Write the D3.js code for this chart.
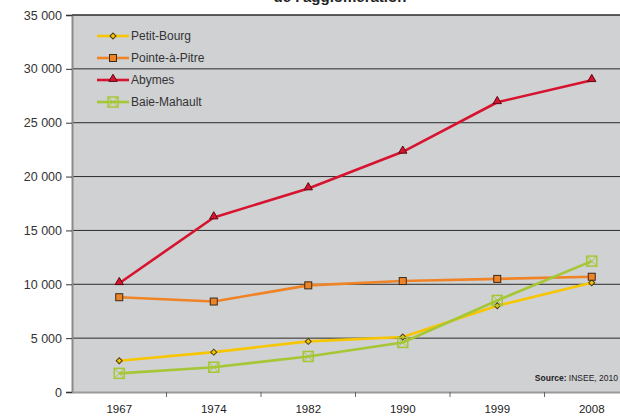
<!DOCTYPE html>
<html>
<head>
<meta charset="utf-8">
<script src="https://cdn.jsdelivr.net/npm/d3@7"></script>
<style>
  html, body { margin: 0; padding: 0; background: #fff; }
  svg { display: block; font-family: "Liberation Sans", Arial, sans-serif; }
</style>
</head>
<body>
<svg id="chart" width="620" height="419"></svg>
<script>
// Population of the main communes, census years
const years = ["1967", "1974", "1982", "1990", "1999", "2008"];
const petitBourg   = [2900, 3700, 4700, 5100, 8000, 10150];
const pointeAPitre = [8800, 8400, 9900, 10300, 10500, 10700];
const abymes       = [10100, 16200, 18900, 22300, 26900, 28950];
const baieMahault  = [1730, 2300, 3300, 4600, 8500, 12150];
const yTicks = [0, 5000, 10000, 15000, 20000, 25000, 30000, 35000];

const series = [
  { name: "Petit-Bourg",    values: petitBourg,   color: "#f7c600", marker: "diamond" },
  { name: "Pointe-à-Pitre", values: pointeAPitre, color: "#ef8426", marker: "square" },
  { name: "Abymes",         values: abymes,       color: "#d7142f", marker: "triangle" },
  { name: "Baie-Mahault",   values: baieMahault,  color: "#a6c735", marker: "xsquare" }
];

const svg = d3.select("#chart");
const plotLeft = 72, plotTop = 15, plotBottom = 392, plotRight = 639;

const x = d3.scaleBand().domain(years).range([plotLeft, plotRight]);
const y = d3.scaleLinear().domain([0, 35000]).range([plotBottom, plotTop]);

// Title (partly above the frame)
svg.append("text")
  .attr("x", 340).attr("y", 2)
  .attr("text-anchor", "middle")
  .attr("font-size", 15).attr("font-weight", "bold")
  .attr("fill", "#222")
  .text("de l'agglomération");

// Plot background
svg.append("rect")
  .attr("x", plotLeft).attr("y", plotTop)
  .attr("width", 620 - plotLeft).attr("height", plotBottom - plotTop)
  .attr("fill", "#d0d1d3");

// Horizontal gridlines
svg.append("g").selectAll("line")
  .data(yTicks.filter(d => d > 0))
  .join("line")
  .attr("x1", plotLeft).attr("x2", 620)
  .attr("y1", d => y(d)).attr("y2", d => y(d))
  .attr("stroke", "#2b2b2b").attr("stroke-width", 1);

// Y axis
const fmt = d => d === 0 ? "0" : d3.format(",")(d).replace(/,/g, " ");
const yAxis = svg.append("g")
  .attr("transform", `translate(${plotLeft},0)`)
  .call(d3.axisLeft(y).tickValues(yTicks).tickFormat(fmt).tickSize(6).tickPadding(4));
yAxis.select(".domain").attr("stroke", "#8a8a8a").attr("stroke-width", 2);
yAxis.selectAll(".tick line").attr("stroke", "#333");
yAxis.selectAll("text").attr("font-size", 12.5).attr("fill", "#333")
  .attr("font-family", "Liberation Sans, Arial, sans-serif");

// X axis
const xAxis = svg.append("g")
  .attr("transform", `translate(0,${plotBottom})`)
  .call(d3.axisBottom(x).tickSize(0).tickPadding(13));
xAxis.select(".domain").attr("stroke", "#9a9a9a").attr("stroke-width", 2);
xAxis.selectAll("text").attr("font-size", 11.5).attr("fill", "#222")
  .attr("font-family", "Liberation Sans, Arial, sans-serif");
// tick marks between categories
svg.append("g").selectAll("line")
  .data(years.slice(1))
  .join("line")
  .attr("x1", d => x(d)).attr("x2", d => x(d))
  .attr("y1", plotBottom).attr("y2", plotBottom + 5)
  .attr("stroke", "#666").attr("stroke-width", 1);

// Marker drawing
function drawMarker(g, type, color, cx, cy) {
  if (type === "diamond") {
    g.append("path")
      .attr("d", d3.symbol().type(d3.symbolSquare).size(18)())
      .attr("transform", `translate(${cx},${cy}) rotate(45)`)
      .attr("fill", color).attr("stroke", "#4a3a10").attr("stroke-width", 1);
  } else if (type === "square") {
    g.append("rect")
      .attr("x", cx - 3.5).attr("y", cy - 3.5).attr("width", 7).attr("height", 7)
      .attr("fill", color).attr("stroke", "#3a2a1a").attr("stroke-width", 1);
  } else if (type === "triangle") {
    g.append("path")
      .attr("d", d3.symbol().type(d3.symbolTriangle).size(30)())
      .attr("transform", `translate(${cx},${cy - 1})`)
      .attr("fill", color).attr("stroke", "#5a0a14").attr("stroke-width", 1);
  } else if (type === "xsquare") {
    const s = 5;
    g.append("rect")
      .attr("x", cx - s).attr("y", cy - s).attr("width", 2 * s).attr("height", 2 * s)
      .attr("fill", "none").attr("stroke", color).attr("stroke-width", 1.5);
    g.append("path")
      .attr("d", `M${cx - s},${cy - s}L${cx + s},${cy + s}M${cx + s},${cy - s}L${cx - s},${cy + s}`)
      .attr("stroke", color).attr("stroke-width", 1);
  }
}

// Lines and markers
const line = d3.line()
  .x((d, i) => x(years[i]) + x.bandwidth() / 2)
  .y(d => y(d));

const plot = svg.append("g");
series.forEach(s => {
  plot.append("path")
    .datum(s.values)
    .attr("d", line)
    .attr("fill", "none")
    .attr("stroke", s.color)
    .attr("stroke-width", 2.6)
    .attr("stroke-linejoin", "round");
});
series.forEach(s => {
  const g = plot.append("g");
  s.values.forEach((v, i) => drawMarker(g, s.marker, s.color, x(years[i]) + x.bandwidth() / 2, y(v)));
});

// Top border of the plot frame
svg.append("line")
  .attr("x1", plotLeft).attr("x2", 620)
  .attr("y1", plotTop).attr("y2", plotTop)
  .attr("stroke", "#2b2b2b").attr("stroke-width", 1.2);

// Legend
const legendY = [36, 58, 80, 102];
const legend = svg.append("g");
series.forEach((s, i) => {
  const ly = legendY[i];
  legend.append("line")
    .attr("x1", 97).attr("x2", 129).attr("y1", ly).attr("y2", ly)
    .attr("stroke", s.color).attr("stroke-width", 2.6);
  drawMarker(legend, s.marker, s.color, 113, ly);
  legend.append("text")
    .attr("x", 131).attr("y", ly + 4)
    .attr("font-size", 12).attr("fill", "#333")
    .text(s.name);
});

// Source note
const src = svg.append("text")
  .attr("x", 618).attr("y", 381)
  .attr("text-anchor", "end")
  .attr("font-size", 8.5).attr("fill", "#222");
src.append("tspan").attr("font-weight", "bold").text("Source:");
src.append("tspan").text(" INSEE, 2010");
</script>
</body>
</html>
